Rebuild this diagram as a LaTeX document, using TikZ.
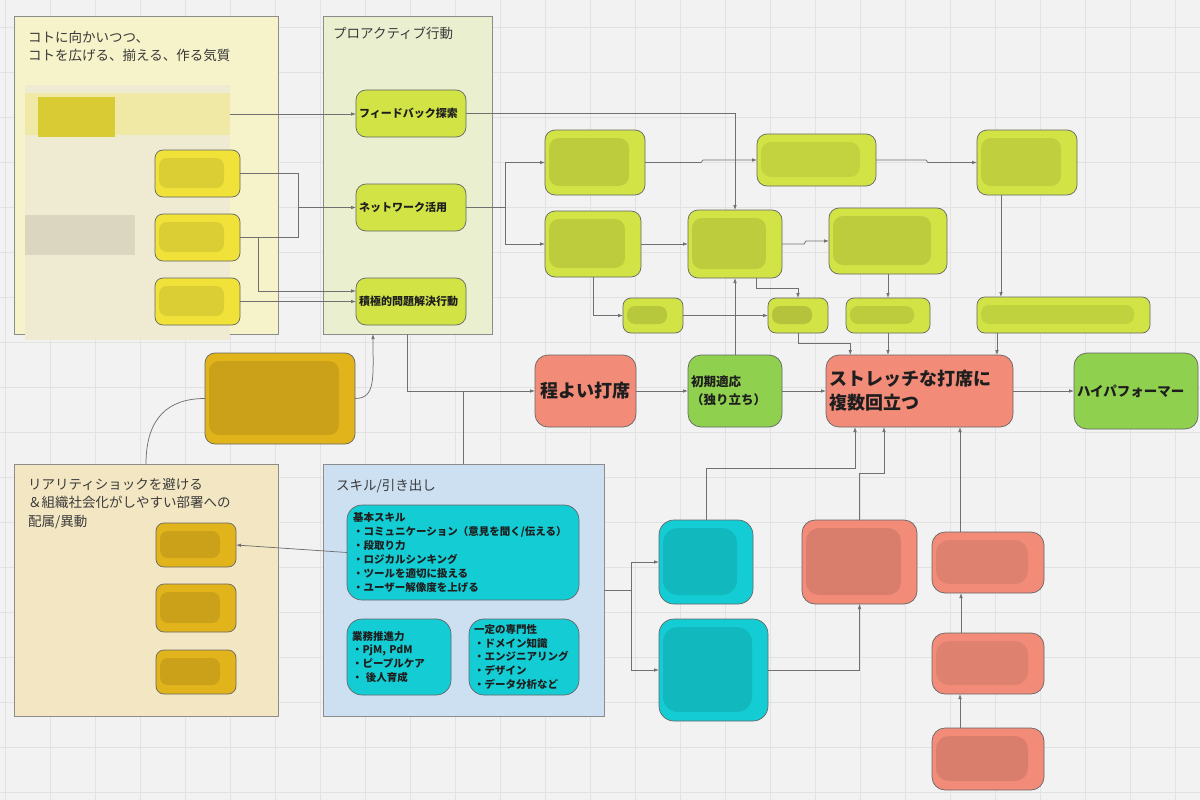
\documentclass[tikz,border=0pt]{standalone}
\usepackage{fontspec}
\setmainfont{Noto Sans CJK JP}
\usetikzlibrary{arrows.meta,calc}
\definecolor{bgc}{HTML}{F2F2F2}
\definecolor{gridc}{HTML}{E2E2E2}
\definecolor{lc}{HTML}{707070}
\definecolor{edgec}{HTML}{666666}
\definecolor{cedge}{HTML}{8C8C8C}
\definecolor{contY}{HTML}{F6F2CA}
\definecolor{contG}{HTML}{EAEFCF}
\definecolor{contB}{HTML}{F3E7C3}
\definecolor{contS}{HTML}{CDE0F2}
\definecolor{limec}{HTML}{D2E445}
\definecolor{salmonc}{HTML}{F28C79}
\definecolor{greenc}{HTML}{8FD14F}
\definecolor{cyanc}{HTML}{14CDD4}
\definecolor{yellowc}{HTML}{F1E23A}
\definecolor{goldc}{HTML}{E2B41C}
\definecolor{palec}{HTML}{EFEBD3}
\definecolor{txt}{HTML}{1E1E1E}
\definecolor{ttl}{HTML}{3A3A3A}
\tikzset{
  base/.style={draw=edgec, line width=0.7pt, inner sep=0pt, outer sep=0pt, rounded corners=10pt, text=txt},
  cont/.style={draw=cedge, line width=0.8pt, inner sep=0pt, outer sep=0pt},
  limebox/.style={base, fill=limec},
  salbox/.style={base, fill=salmonc, rounded corners=13pt},
  grnbox/.style={base, fill=greenc, rounded corners=13pt},
  cyanbox/.style={base, fill=cyanc, rounded corners=15pt},
  ylbox/.style={base, fill=yellowc, rounded corners=8pt},
  gdbox/.style={base, fill=goldc, rounded corners=8pt},
  blur/.style={path picture={\fill[black, opacity=#1]
      ([xshift=4pt,yshift=-8pt]path picture bounding box.north west) rectangle
      ([xshift=-16pt,yshift=9pt]path picture bounding box.south east);}},
  blur/.default=0.09,
  ttlfont/.style={font=\fontsize{13.5}{18.3}\selectfont, text=ttl, inner sep=0pt, anchor=north west, align=left},
  nfont/.style={font=\bfseries\fontsize{11}{13}\selectfont},
  conn/.style={draw=lc, line width=0.75pt},
  arr/.style={conn, -{Latex[length=5pt,width=3.6pt]}},
}
\newcommand\bx[7]{\node[#1, minimum width={#5pt-#3pt}, minimum height={#6pt-#4pt}] (#2) at ({(#3+#5)/2},{(#4+#6)/2}) {#7};}
\begin{document}
\begin{tikzpicture}[x=1pt,y=-1pt]
\useasboundingbox (0,0) rectangle (1200,800);
\fill[bgc] (0,0) rectangle (1200,800);
\foreach \gx in {5,50,...,1200} \draw[gridc, line width=0.6pt] (\gx,0) -- (\gx,800);
\foreach \gy in {27,72,...,800} \draw[gridc, line width=0.6pt] (0,\gy) -- (1200,\gy);

% containers
\bx{cont, fill=contY}{cY}{14}{16}{278}{334}{}
\bx{cont, fill=contG}{cG}{323}{16}{492}{334}{}
\bx{cont, fill=contB}{cB}{14}{464}{278}{716}{}
\bx{cont, fill=contS}{cS}{323}{464}{604}{716}{}

\node[ttlfont] (tY) at (28,31) {コトに向かいつつ、\\コトを広げる、揃える、作る気質};
\node[ttlfont] (tG) at (333,27) {プロアクティブ行動};
\node[ttlfont] (tB) at (28,478) {リアリティショックを避ける\\＆組織社会化がしやすい部署への\\配属/異動};
\node[ttlfont] (tS) at (336,479) {スキル/引き出し};

% blurred area in the top-left container
\fill[palec] (25,85) rectangle (230,340);
\fill[black!9!palec] (25,215) rectangle (135,255);
\bx{inner sep=0pt, outer sep=0pt, fill=palec!70!yellowc}{y0}{25}{93}{230}{135}{}
\fill[yellowc!90!black] (38,97) rectangle (115,137);
\bx{ylbox, blur}{y1}{155}{150}{240}{197}{}
\bx{ylbox, blur}{y2}{155}{214}{240}{261}{}
\bx{ylbox, blur}{y3}{155}{278}{240}{325}{}

% proactive actions
\bx{limebox, nfont, align=left, text width=104pt}{fb}{356}{90}{466}{137}{フィードバック探索}
\bx{limebox, nfont, align=left, text width=104pt}{nw}{356}{184}{466}{231}{ネットワーク活用}
\bx{limebox, nfont, align=left, text width=104pt}{pr}{356}{278}{466}{325}{積極的問題解決行動}

% blurred lime boxes
\bx{limebox, blur=0.1}{L1}{545}{130}{645}{195}{}
\bx{limebox, blur=0.1}{L2}{545}{211}{641}{277}{}
\bx{limebox, blur=0.12, rounded corners=8pt}{L3}{623}{298}{683}{333}{}
\bx{limebox, blur=0.07}{M1}{757}{134}{876}{186}{}
\bx{limebox, blur=0.1}{M2}{688}{210}{782}{278}{}
\bx{limebox, blur=0.14, rounded corners=8pt}{M3}{768}{298}{828}{333}{}
\bx{limebox, blur=0.1}{N1}{829}{208}{947}{274}{}
\bx{limebox, blur=0.1, rounded corners=8pt}{N2}{846}{298}{930}{333}{}
\bx{limebox, blur=0.09}{R1}{977}{130}{1077}{195}{}
\bx{limebox, blur=0.08, rounded corners=8pt}{R2}{977}{297}{1150}{333}{}

% main flow
\bx{salbox, font=\bfseries\fontsize{18}{22}\selectfont}{hy}{535}{355}{636}{427}{程よい打席}
\bx{grnbox, font=\bfseries\fontsize{12.5}{18}\selectfont, align=left, text width=88pt}{sh}{688}{355}{782}{427}{初期適応\\（独り立ち）}
\bx{salbox, font=\bfseries\fontsize{18}{24}\selectfont, align=left, text width=181pt}{st}{826}{355}{1013}{427}{ストレッチな打席に\\複数回立つ}
\bx{grnbox, font=\bfseries\fontsize{13.5}{16}\selectfont, align=left, text width=118pt}{hp}{1074}{353}{1198}{429}{ハイパフォーマー}

% golden blurred boxes
\bx{gdbox, blur=0.1, rounded corners=10pt}{og}{205}{353}{355}{444}{}
\bx{gdbox, blur=0.1}{b1}{156}{523}{236}{567}{}
\bx{gdbox, blur=0.1}{b2}{156}{584}{236}{632}{}
\bx{gdbox, blur=0.1}{b3}{156}{650}{236}{694}{}

% skills
\bx{cyanbox, font=\bfseries\fontsize{10.5}{13.9}\selectfont, align=left, text width=220pt}{k1}{347}{505}{579}{600}{基本スキル\\・コミュニケーション（意見を聞く/伝える）\\・段取り力\\・ロジカルシンキング\\・ツールを適切に扱える\\・ユーザー解像度を上げる}
\bx{cyanbox, font=\bfseries\fontsize{10.5}{13.9}\selectfont, align=left, text width=94pt}{k2}{347}{619}{451}{695}{業務推進力\\・PjM, PdM\\・ピープルケア\\・ 後人育成}
\bx{cyanbox, font=\bfseries\fontsize{10.5}{13.9}\selectfont, align=left, text width=100pt}{k3}{469}{619}{579}{695}{一定の専門性\\・ドメイン知識\\・エンジニアリング\\・デザイン\\・データ分析など}

% blurred cyan / salmon boxes
\bx{cyanbox, blur=0.1}{C1}{659}{520}{753}{604}{}
\bx{cyanbox, blur=0.1}{C2}{659}{619}{768}{721}{}
\bx{salbox, blur=0.1}{S1}{802}{520}{917}{604}{}
\bx{salbox, blur=0.08}{S2}{932}{532}{1044}{593}{}
\bx{salbox, blur=0.08}{S3}{932}{633}{1044}{694}{}
\bx{salbox, blur=0.1}{S4}{932}{728}{1044}{790}{}

% connectors: left container to proactive actions
\coordinate (j1) at (298,207.5);
\coordinate (j2) at (258,237.5);
\draw[arr] (y0.east) -- (y0.east -| fb.west);
\draw[arr] (y1.east) -| (j1) -- (nw.west);
\draw[conn] (y2.east) -| (j1);
\draw[arr] (j2) |- ([yshift=10.5pt]pr.west);
\draw[arr] (y3.east) -- (y3.east -| pr.west);

% proactive actions to lime boxes
\draw[arr] (fb.east) -| (M2.north);
\coordinate (j3) at (505,207.5);
\draw[conn] (nw.east) -- (j3);
\draw[arr] (j3) |- (L1.west);
\draw[arr] (j3) |- (L2.west);
\draw[arr] (L1.east) -- ++(56,0) -- ++(2,-2.5) -- (M1.west);
\draw[arr] (M1.east) -- ++(50,0) -- ++(2,2.5) -- (R1.west);
\draw[arr] (L2.east) -- (L2.east -| M2.west);
\draw[arr] (M2.east) -- ++(22,0) -- ++(2,-3) -- (N1.west);
\draw[arr] ([xshift=21pt]M2.south) -- ++(0,10) -| (M3.north);
\draw[arr] (L2.south) |- (L3.west);
\draw[arr] (L3.east) -- (M3.west);
\draw[arr] (N1.south) -- (N1.south |- N2.north);
\draw[arr] ([xshift=-26pt]R1.south) -- ([xshift=-26pt]R1.south |- R2.north);
\draw[arr] (M3.south) -- ++(0,10) -| ([xshift=-69.25pt]st.north);
\draw[arr] (N2.south) -- (N2.south |- st.north);
\draw[arr] ([xshift=-66.5pt]R2.south) -- ([xshift=-66.5pt]R2.south |- st.north);
\draw[arr] (sh.north) -- (M2.south);

% main flow
\draw[arr] (cG.south) |- (hy.west);
\draw[conn] (cS.north) -- (cS.north |- hy.west);
\draw[arr] (hy.east) -- (sh.west);
\draw[arr] (sh.east) -- (st.west);
\draw[arr] (st.east) -- (hp.west);

% skills to lower boxes
\coordinate (j4) at (631,590);
\draw[conn] (cS.east) -- (j4);
\draw[arr] (j4) |- (C1.west);
\draw[arr] (j4) |- (C2.west);
\draw[arr] (C1.north) -- ++(0,-52) -| ([xshift=-64.5pt]st.south);
\draw[arr] (C2.east) -| (S1.south);
\draw[arr] (S1.north) -- ++(0,-47) -| ([xshift=-35.5pt]st.south);
\draw[arr] ([xshift=-28pt]S2.north) -- ([xshift=-28pt]S2.north |- st.south);
\draw[arr] ([xshift=-27pt]S3.north) -- ([xshift=-27pt]S2.south);
\draw[arr] ([xshift=-28pt]S4.north) -- ([xshift=-28pt]S3.south);
\draw[arr] (k1.west) -- (b1.east);

% curves around the golden box
\draw[arr] (og.east) .. controls (376,398.5) and (373,378) .. ([xshift=-34.5pt]cG.south);
\draw[conn] (cB.north) .. controls (146,418) and (168,398.5) .. (og.west);
\end{tikzpicture}
\end{document}
